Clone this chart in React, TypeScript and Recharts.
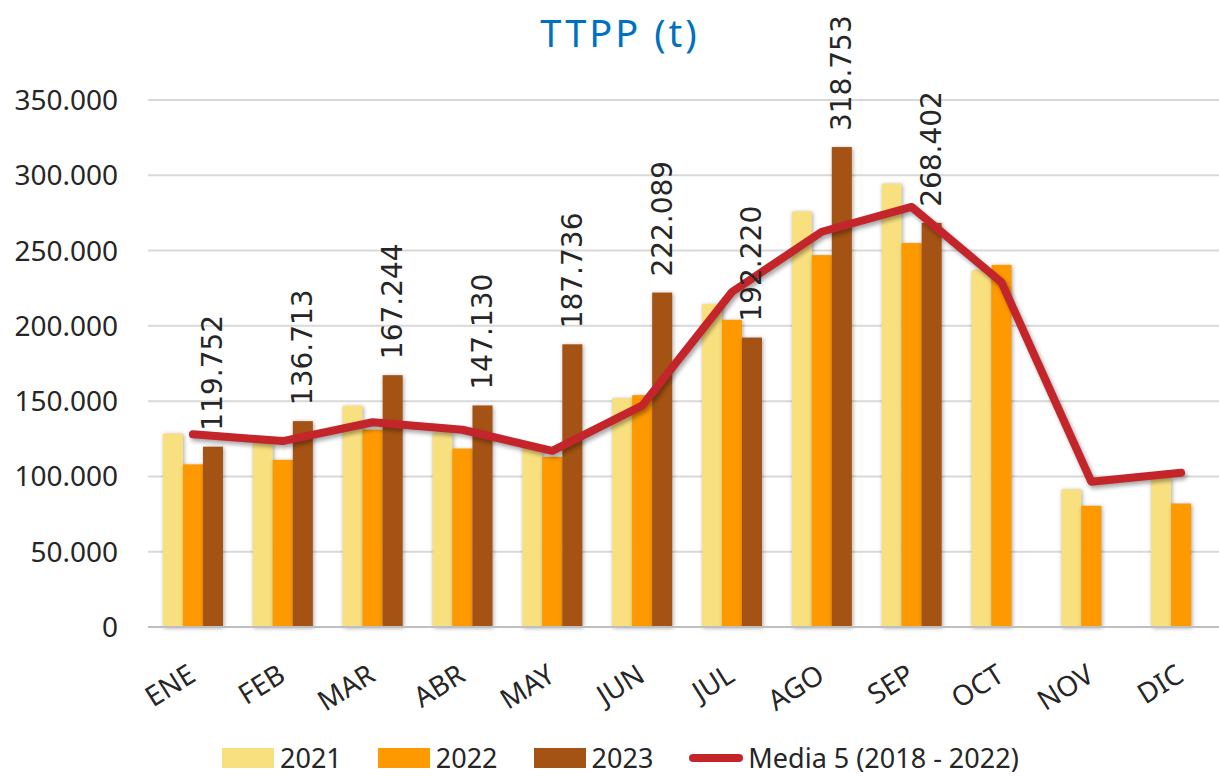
import React from 'react';
import { ComposedChart, Bar, Line, XAxis, YAxis, CartesianGrid, LabelList } from 'recharts';

// Monthly tonnage
const months = ['ENE', 'FEB', 'MAR', 'ABR', 'MAY', 'JUN', 'JUL', 'AGO', 'SEP', 'OCT', 'NOV', 'DIC'];
const y2021 = [128500, 122000, 147000, 129000, 120000, 152000, 214500, 276000, 294500, 237000, 91500, 99000];
const y2022 = [108000, 111000, 131000, 118500, 113000, 154000, 204000, 247000, 255000, 240500, 80500, 82000];
const y2023 = [119752, 136713, 167244, 147130, 187736, 222089, 192220, 318753, 268402, null, null, null];
const media5 = [128000, 123500, 136000, 131000, 117000, 147000, 222500, 262500, 279000, 229000, 96500, 102500];
const yTicks = [0, 50000, 100000, 150000, 200000, 250000, 300000, 350000];

const data = months.map((m, i) => ({
  month: m,
  y2021: y2021[i],
  y2022: y2022[i],
  y2023: y2023[i],
  media5: media5[i],
}));

const C2021 = '#F9E07F';
const C2022 = '#FF9900';
const C2023 = '#A45314';
const CLINE = '#C4252A';
const FONT = '"Noto Sans", "Open Sans", sans-serif';

const fmt = (v: number) => String(v).replace(/\B(?=(\d{3})+(?!\d))/g, '.');

const ShadowBar = (props: any) => {
  const { x, y, width, height, fill } = props;
  if (!height || height <= 0) return null;
  return (
    <rect
      x={x}
      y={y}
      width={width}
      height={height}
      fill={fill}
      style={{ filter: 'drop-shadow(1px 1px 2px rgba(0,0,0,0.35))' }}
    />
  );
};

const BarLabel = (props: any) => {
  const { x, y, width, value } = props;
  if (value == null) return null;
  const cx = x + width / 2;
  const ty = y - 16;
  return (
    <text
      x={cx}
      y={ty}
      transform={`rotate(-90, ${cx}, ${ty})`}
      textAnchor="start"
      dominantBaseline="central"
      fontFamily='"DejaVu Sans", sans-serif'
      fontSize={28}
      fill="#262626"
    >
      {fmt(value)}
    </text>
  );
};

const MonthTick = (props: any) => {
  const { x, y, payload } = props;
  const ax = x - 6;
  const ay = y + 28;
  return (
    <text
      x={ax}
      y={ay}
      transform={`rotate(-32, ${ax}, ${ay})`}
      textAnchor="end"
      dy="0.71em"
      fontFamily={FONT}
      fontSize={28}
      fill="#262626"
    >
      {payload.value}
    </text>
  );
};

const legendItems = [
  { label: '2021', color: C2021, type: 'box' },
  { label: '2022', color: C2022, type: 'box' },
  { label: '2023', color: C2023, type: 'box' },
  { label: 'Media 5 (2018 - 2022)', color: CLINE, type: 'line' },
];

export default function App() {
  return (
    <div
      style={{
        position: 'absolute',
        left: 0,
        top: 0,
        width: 1219,
        height: 776,
        overflow: 'hidden',
        background: '#fff',
      }}
    >
      <div
        style={{
          position: 'absolute',
          left: 0,
          top: 6,
          width: 1240,
          textAlign: 'center',
          fontFamily: FONT,
          fontSize: 38,
          letterSpacing: 3,
          color: '#0070C0',
        }}
      >
        TTPP (t)
      </div>
      <style>{`.media-line path { filter: drop-shadow(2px 3px 2px rgba(0,0,0,0.35)); }`}</style>
      <ComposedChart
        width={1226}
        height={776}
        data={data}
        margin={{ top: 100, right: 0, bottom: 0, left: 0 }}
        barCategoryGap="16.6%"
        barGap={0}
      >
        <CartesianGrid vertical={false} stroke="#D9D9D9" strokeWidth={2} />
        <XAxis
          dataKey="month"
          height={149}
          tickLine={false}
          axisLine={{ stroke: '#BFBFBF', strokeWidth: 2 }}
          tick={<MonthTick />}
          interval={0}
        />
        <YAxis
          width={148}
          domain={[0, 350000]}
          ticks={yTicks}
          tickFormatter={(v) => fmt(v)}
          axisLine={false}
          tickLine={false}
          tickSize={0}
          tickMargin={30}
          tick={{ fontFamily: FONT, fontSize: 28, fill: '#262626' }}
        />
        <Bar dataKey="y2021" name="2021" fill={C2021} barSize={20} shape={<ShadowBar />} isAnimationActive={false} />
        <Bar dataKey="y2022" name="2022" fill={C2022} barSize={20} shape={<ShadowBar />} isAnimationActive={false} />
        <Bar dataKey="y2023" name="2023" fill={C2023} barSize={20} shape={<ShadowBar />} isAnimationActive={false}>
          <LabelList dataKey="y2023" content={<BarLabel />} />
        </Bar>
        <Line
          className="media-line"
          dataKey="media5"
          name="Media 5 (2018 - 2022)"
          type="linear"
          stroke={CLINE}
          strokeWidth={8}
          strokeLinecap="round"
          strokeLinejoin="round"
          dot={false}
          activeDot={false}
          isAnimationActive={false}
        />
      </ComposedChart>
      <div
        style={{
          position: 'absolute',
          left: 222,
          top: 743,
          height: 30,
          display: 'flex',
          alignItems: 'center',
          fontFamily: FONT,
          fontSize: 27,
          color: '#262626',
          lineHeight: '30px',
        }}
      >
        {legendItems.map((it) => (
          <div key={it.label} style={{ display: 'flex', alignItems: 'center', marginRight: 36 }}>
            {it.type === 'box' ? (
              <div style={{ width: 52, height: 20, background: it.color, marginRight: 6 }} />
            ) : (
              <div style={{ width: 54, height: 8, borderRadius: 4, background: it.color, marginRight: 5 }} />
            )}
            <span>{it.label}</span>
          </div>
        ))}
      </div>
    </div>
  );
}
